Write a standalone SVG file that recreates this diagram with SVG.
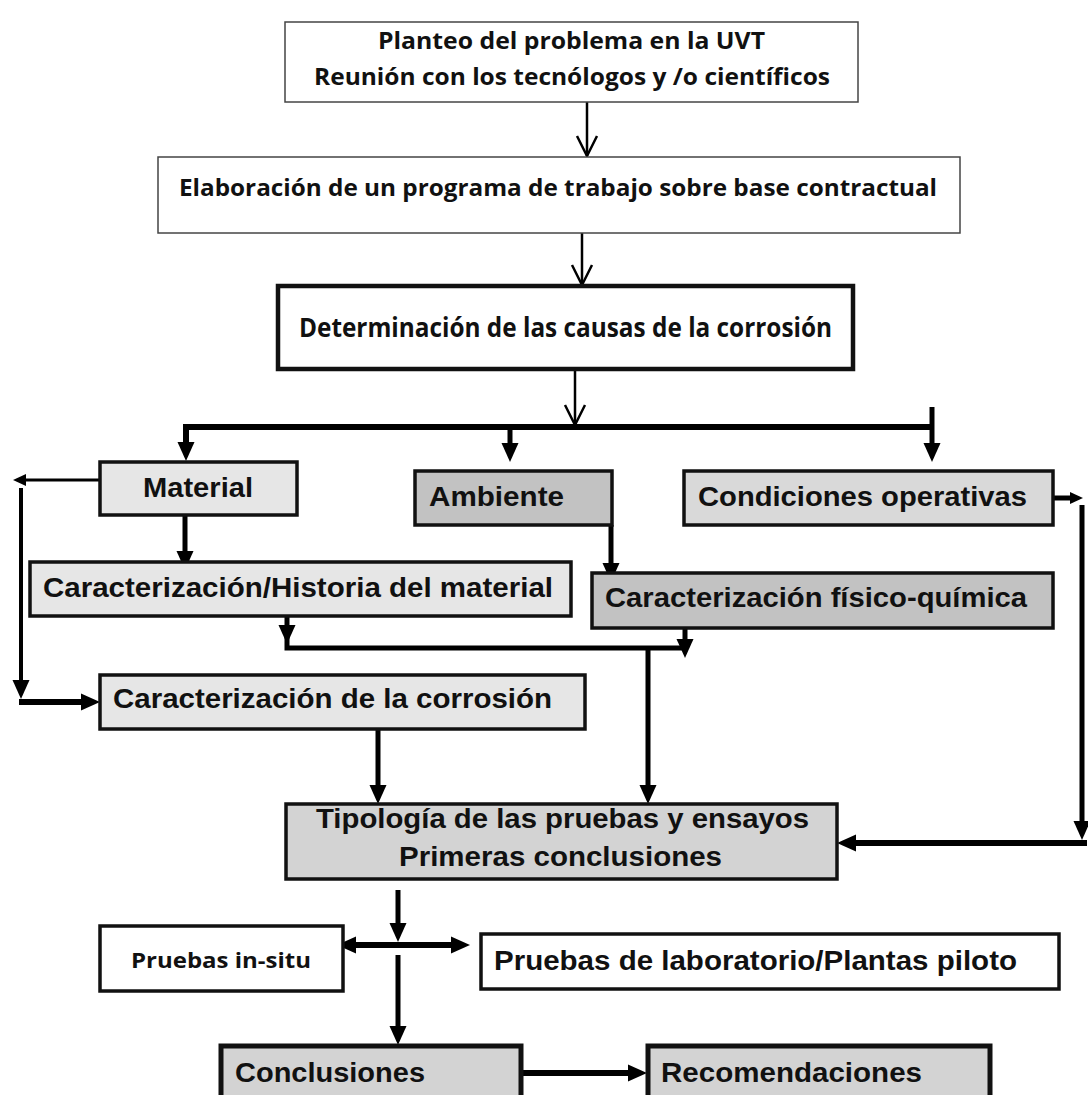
<svg xmlns="http://www.w3.org/2000/svg" width="1088" height="1095" viewBox="0 0 1088 1095">
<style>
.thin{fill:#fff;stroke:#444;stroke-width:1.5}
.box{stroke:#111;stroke-width:3.5}
.heavy{stroke:#111;stroke-width:5}
.w{fill:#fff}
.g1{fill:#e6e6e6}
.g2{fill:#d9d9d9}
.g3{fill:#c2c2c2}
.g4{fill:#d3d3d3}
.cal{font-family:"Open Sans","Noto Sans","Liberation Sans",sans-serif;font-weight:700;fill:#111}
.ar{font-family:"Liberation Sans",Arial,sans-serif;font-weight:700;fill:#111;font-size:28px}
.c{fill:none;stroke:#000;stroke-linejoin:miter}
</style>
<defs>
<marker id="vopen" markerUnits="userSpaceOnUse" markerWidth="24" markerHeight="24" refX="20" refY="10" orient="auto" overflow="visible">
<path d="M0,0 L20,10 L0,20" fill="none" stroke="#000" stroke-width="2.5"/>
</marker>
<marker id="tri" markerUnits="userSpaceOnUse" markerWidth="20" markerHeight="18" refX="0" refY="8.5" orient="auto-start-reverse" overflow="visible">
<path d="M0,0 L19,8.5 L0,17 Z" fill="#000"/>
</marker>
<marker id="triS" markerUnits="userSpaceOnUse" markerWidth="14" markerHeight="14" refX="0" refY="6" orient="auto" overflow="visible">
<path d="M0,0 L13,6 L0,12 Z" fill="#000"/>
</marker>
</defs>
<rect width="1088" height="1095" fill="#fff"/>

<g id="connectors">
<path class="c" stroke-width="2.5" d="M587,102 L587,156" marker-end="url(#vopen)"/>
<path class="c" stroke-width="2.5" d="M582,233 L582,285" marker-end="url(#vopen)"/>
<path class="c" stroke-width="2.5" d="M575,371 L575,425" marker-end="url(#vopen)"/>
<path class="c" stroke-width="6" d="M932,427 L186,427 L186,442" marker-end="url(#tri)"/>
<path class="c" stroke-width="5" d="M510,427 L510,443" marker-end="url(#tri)"/>
<path class="c" stroke-width="5" d="M932,407 L932,443" marker-end="url(#tri)"/>
<path class="c" stroke-width="5" d="M185,516 L185,551" marker-end="url(#tri)"/>
<path class="c" stroke-width="3" d="M100,480 L26,480" marker-end="url(#triS)"/>
<path class="c" stroke-width="4" d="M21,488 L21,680" marker-end="url(#tri)"/>
<path class="c" stroke-width="6" d="M19,702 L81,702" marker-end="url(#tri)"/>
<path class="c" stroke-width="5" d="M611,525 L611,563" marker-end="url(#tri)"/>
<path class="c" stroke-width="5" d="M287,616 L287,625" marker-end="url(#tri)"/>
<path class="c" stroke-width="5" d="M287,625 L287,648 L685,648"/>
<path class="c" stroke-width="5" d="M685,628 L685,639" marker-end="url(#tri)"/>
<path class="c" stroke-width="5" d="M648,648 L648,785" marker-end="url(#tri)"/>
<path class="c" stroke-width="5" d="M1053,498 L1070,498" marker-end="url(#triS)"/>
<path class="c" stroke-width="5" d="M1082,505 L1082,821" marker-end="url(#tri)"/>
<path class="c" stroke-width="6" d="M1087,843 L856,843" marker-end="url(#tri)"/>
<path class="c" stroke-width="5" d="M378,729 L378,785" marker-end="url(#tri)"/>
<path class="c" stroke-width="5" d="M398,890 L398,923" marker-end="url(#tri)"/>
<path class="c" stroke-width="6" d="M356,945 L451,945" marker-start="url(#tri)" marker-end="url(#tri)"/>
<path class="c" stroke-width="5" d="M398,955 L398,1026" marker-end="url(#tri)"/>
<path class="c" stroke-width="6" d="M521,1073 L628,1073" marker-end="url(#tri)"/>
</g>

<g id="planteo">
<rect class="thin" x="285" y="22" width="573" height="80"/>
<text class="cal" font-size="24" x="378" y="49" textLength="387" lengthAdjust="spacingAndGlyphs">Planteo del problema en la UVT</text>
<text class="cal" font-size="24" x="314" y="85" textLength="516" lengthAdjust="spacingAndGlyphs">Reunión con los tecnólogos y /o científicos</text>
</g>
<g id="elaboracion">
<rect class="thin" x="158" y="157" width="802" height="76"/>
<text class="cal" font-size="24" x="179" y="196" textLength="758" lengthAdjust="spacingAndGlyphs">Elaboración de un programa de trabajo sobre base contractual</text>
</g>
<g id="determinacion">
<rect class="w" x="278" y="286" width="575" height="83" stroke="#111" stroke-width="4.5"/>
<text class="cal" font-size="26" x="299" y="337" textLength="533" lengthAdjust="spacingAndGlyphs">Determinación de las causas de la corrosión</text>
</g>
<g id="material">
<rect class="box g1" x="100" y="462" width="197" height="53"/>
<text class="ar" x="143" y="497" textLength="110" lengthAdjust="spacingAndGlyphs">Material</text>
</g>
<g id="ambiente">
<rect class="box g3" x="415" y="471" width="197" height="54"/>
<text class="ar" x="429" y="506" textLength="135" lengthAdjust="spacingAndGlyphs">Ambiente</text>
</g>
<g id="condiciones">
<rect class="box g2" x="684" y="471" width="369" height="54"/>
<text class="ar" x="698" y="506" textLength="329" lengthAdjust="spacingAndGlyphs">Condiciones operativas</text>
</g>
<g id="historia">
<rect class="box g1" x="30" y="562" width="541" height="54"/>
<text class="ar" x="43" y="597" textLength="510" lengthAdjust="spacingAndGlyphs">Caracterización/Historia del material</text>
</g>
<g id="fisicoquimica">
<rect class="box g3" x="592" y="573" width="461" height="55"/>
<text class="ar" x="605" y="607" textLength="422" lengthAdjust="spacingAndGlyphs">Caracterización físico-química</text>
</g>
<g id="corrosion">
<rect class="box g1" x="100" y="675" width="485" height="54"/>
<text class="ar" x="113" y="708" textLength="439" lengthAdjust="spacingAndGlyphs">Caracterización de la corrosión</text>
</g>
<g id="tipologia">
<rect class="box g4" x="286" y="804" width="551" height="75"/>
<text class="ar" x="316" y="828" textLength="493" lengthAdjust="spacingAndGlyphs">Tipología de las pruebas y ensayos</text>
<text class="ar" x="399" y="866" textLength="323" lengthAdjust="spacingAndGlyphs">Primeras conclusiones</text>
</g>
<g id="insitu">
<rect class="box w" x="100" y="926" width="243" height="65"/>
<text class="cal" font-size="22" x="131" y="968" textLength="180" lengthAdjust="spacingAndGlyphs">Pruebas in-situ</text>
</g>
<g id="laboratorio">
<rect class="box w" x="481" y="934" width="578" height="55"/>
<text class="ar" x="494" y="970" textLength="523" lengthAdjust="spacingAndGlyphs">Pruebas de laboratorio/Plantas piloto</text>
</g>
<g id="conclusiones">
<rect class="heavy g4" x="221" y="1046" width="300" height="60"/>
<text class="ar" x="235" y="1082" textLength="190" lengthAdjust="spacingAndGlyphs">Conclusiones</text>
</g>
<g id="recomendaciones">
<rect class="heavy g4" x="648" y="1046" width="342" height="60"/>
<text class="ar" x="661" y="1082" textLength="261" lengthAdjust="spacingAndGlyphs">Recomendaciones</text>
</g>
</svg>
